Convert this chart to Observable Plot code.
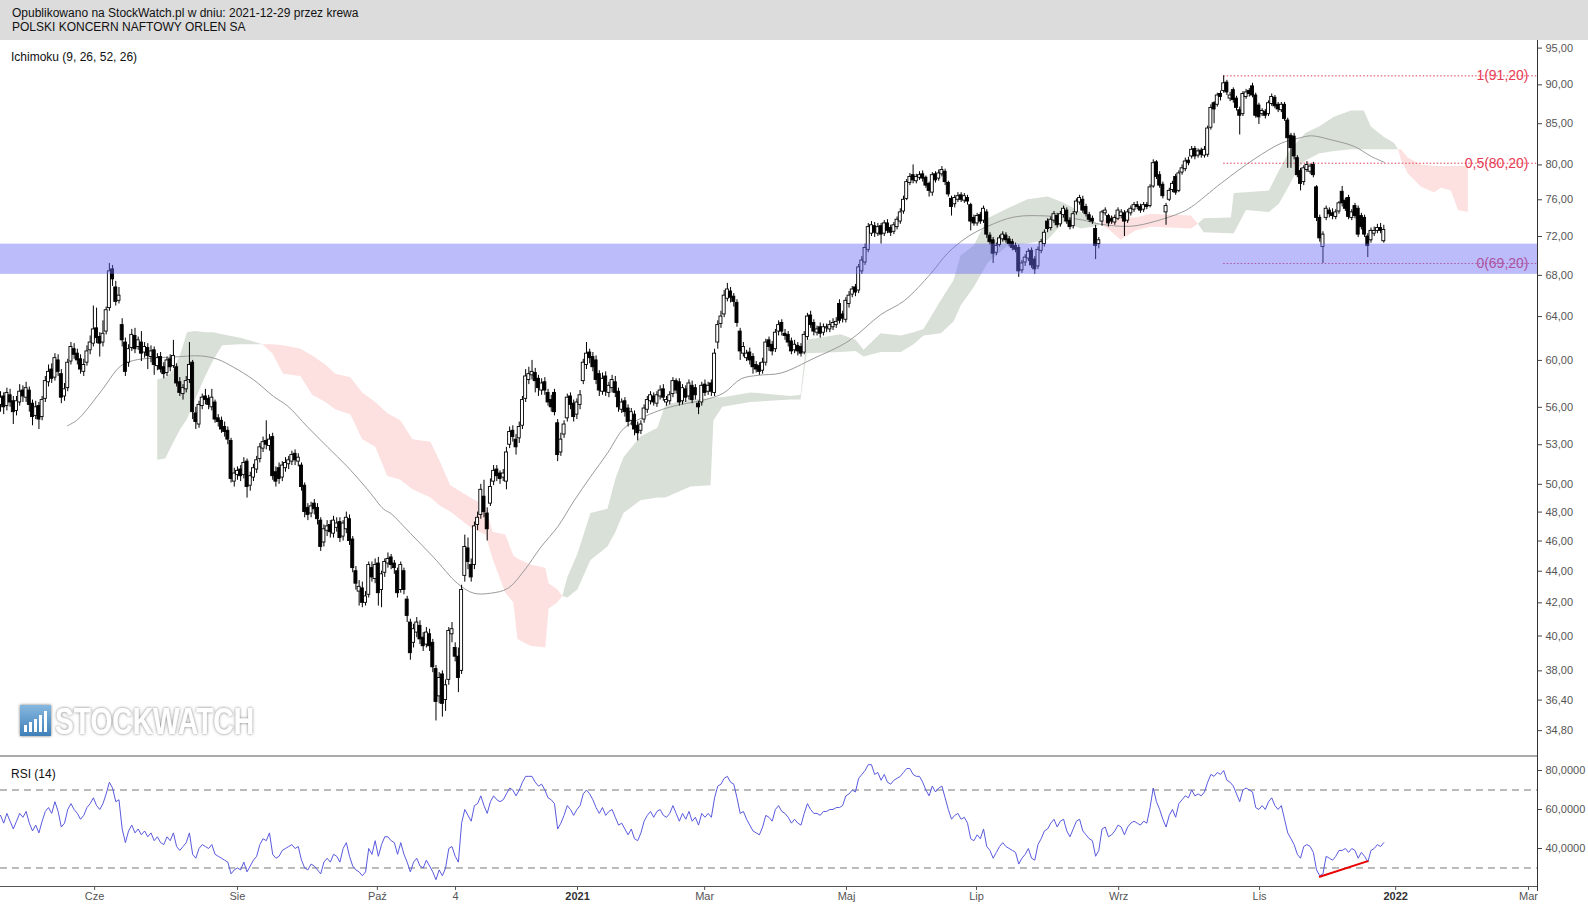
<!DOCTYPE html>
<html lang="pl">
<head>
<meta charset="utf-8">
<script src="https://cdn.jsdelivr.net/npm/d3@7"></script>
<script src="https://cdn.jsdelivr.net/npm/@observablehq/plot@0.6"></script>
<style>
html,body{margin:0;padding:0;background:#fff;}
body{width:1588px;height:905px;position:relative;overflow:hidden;font-family:"Liberation Sans",Arial,sans-serif;color:#111;}
#hdr{position:absolute;left:0;top:0;width:1588px;height:40px;background:#dcdcdc;}
#hdr div{position:absolute;left:12px;font-size:12px;line-height:14px;color:#111;white-space:nowrap;}
.lbl{position:absolute;left:11px;font-size:12px;line-height:14px;color:#111;white-space:nowrap;}
#main{position:absolute;left:0;top:40px;}
#rsi{position:absolute;left:0;top:755px;}
#wm{position:absolute;left:0;top:684px;overflow:visible;}
</style>
</head>
<body>
<div id="hdr"><div style="top:6px">Opublikowano na StockWatch.pl w dniu: 2021-12-29 przez krewa</div><div style="top:20px">POLSKI KONCERN NAFTOWY ORLEN SA</div></div>
<div id="main"></div>
<div id="rsi"></div>
<svg id="wm" width="300" height="64">
  <defs>
    <linearGradient id="wg" x1="0" y1="0" x2="0" y2="1"><stop offset="0" stop-color="#86b8e0"/><stop offset="1" stop-color="#3f7fb8"/></linearGradient>
    <filter id="wsh" x="-10%" y="-30%" width="120%" height="160%"><feDropShadow dx="0" dy="0" stdDeviation="1.6" flood-color="#666" flood-opacity="0.9"/></filter>
  </defs>
  <rect x="20" y="21" width="31" height="31" fill="url(#wg)" filter="url(#wsh)"/>
  <rect x="24" y="41" width="3" height="7" fill="#fff"/><rect x="29" y="38" width="3" height="10" fill="#fff"/><rect x="34" y="35" width="3" height="13" fill="#fff"/><rect x="39" y="31" width="3" height="17" fill="#fff"/><rect x="44" y="27" width="3" height="21" fill="#fff"/>
  <text x="55" y="50" font-family="'Liberation Sans Narrow','Liberation Sans',Arial" font-weight="bold" font-size="36" fill="#fff" filter="url(#wsh)" textLength="199" lengthAdjust="spacingAndGlyphs">STOCKWATCH</text>
</svg>
<div class="lbl" style="top:50px">Ichimoku (9, 26, 52, 26)</div>
<div class="lbl" style="top:767px">RSI (14)</div>
<script>
// ---- daily candles (trading-day index = position in arrays) ----
const open = [
56.2,56.9,56.1,57.0,56.5,55.7,56.4,57.4,56.8,57.4,
56.3,55.3,56.1,55.2,56.7,58.1,59.2,58.5,60.0,58.8,
56.9,57.6,59.9,61.0,60.6,60.1,59.0,59.8,60.9,61.5,
62.9,62.1,61.6,62.6,64.8,68.6,66.8,65.5,63.2,61.6,
59.8,61.1,62.2,61.2,61.6,60.7,61.1,60.3,60.9,59.5,
60.3,59.4,58.9,60.1,59.5,59.4,58.1,57.1,57.5,58.3,
59.8,55.5,54.6,56.1,56.9,56.7,56.0,56.4,55.1,54.9,
54.4,54.1,53.3,50.2,50.7,51.1,50.7,51.7,49.9,50.5,
51.1,51.9,52.7,53.3,52.9,53.6,50.9,51.2,50.5,51.2,
51.5,51.7,52.3,51.7,51.4,49.9,48.3,47.9,48.6,48.3,
47.4,45.9,46.7,47.1,46.5,46.9,47.3,46.3,46.8,47.5,
46.1,44.0,42.7,42.9,42.0,42.5,44.2,43.5,44.5,42.8,
43.9,44.5,44.9,44.5,44.0,42.8,44.0,42.2,40.8,39.6,
40.2,40.6,39.9,39.5,40.1,39.6,38.1,36.6,37.8,36.4,
37.5,40.1,39.3,38.8,38.0,43.7,45.5,44.4,44.4,47.1,
47.8,49.1,47.9,48.6,50.2,51.1,50.8,50.5,50.2,53.0,
54.1,53.4,53.5,54.5,56.7,58.3,58.7,58.9,58.4,57.4,
58.1,57.2,56.6,57.2,54.7,52.4,53.8,55.1,56.9,56.3,
55.4,56.2,58.2,59.6,60.7,60.3,60.0,58.8,57.3,58.6,
57.2,57.6,58.1,57.3,55.8,56.5,55.9,54.9,55.4,54.5,
54.1,55.0,55.8,56.5,56.9,56.3,56.9,57.5,56.4,56.5,
57.1,58.2,58.1,56.5,57.5,56.9,57.8,57.6,56.3,56.4,
57.9,57.3,58.0,57.2,61.6,63.3,64.2,65.7,66.4,65.9,
65.3,62.6,60.6,60.2,60.7,60.3,59.6,59.5,59.1,59.8,
61.8,61.4,61.0,62.6,63.4,62.4,62.3,61.7,60.9,61.3,
61.2,60.7,62.1,64.1,63.4,62.5,63.0,62.5,62.9,62.8,
63.0,63.2,65.2,64.2,63.7,65.2,66.1,66.8,66.5,68.4,
69.3,70.6,72.3,73.1,72.3,73.1,72.3,73.4,72.9,72.5,
73.0,73.6,74.7,76.1,77.9,78.8,78.1,78.5,78.9,78.5,
77.8,76.8,78.9,78.4,78.9,79.2,77.9,76.1,75.5,76.0,
76.5,75.9,76.2,75.4,74.0,73.4,74.3,73.7,74.6,72.1,
71.6,70.3,71.1,71.7,72.1,71.7,71.4,71.0,70.8,68.5,
69.3,69.7,70.5,69.6,68.9,70.5,71.2,73.6,72.9,73.7,
74.2,73.3,74.3,74.8,73.7,73.1,74.6,75.7,76.0,75.2,
74.3,73.9,72.8,71.2,73.6,74.5,74.2,73.9,73.5,73.9,
74.2,74.5,73.7,74.5,74.9,75.4,75.2,74.9,75.4,75.3,
77.5,80.3,78.8,77.7,74.6,76.0,77.1,78.6,77.0,79.1,
79.5,80.5,81.0,81.9,81.1,81.7,81.1,81.2,84.5,87.6,
87.4,88.8,89.2,90.3,88.2,89.3,88.2,86.7,86.2,88.4,
89.2,89.8,88.6,87.3,86.2,86.5,86.2,87.5,88.3,87.4,
86.7,87.4,85.4,83.5,83.4,80.8,79.3,78.0,79.4,79.2,
80.0,77.4,74.0,70.9,74.0,74.8,74.5,74.1,74.7,76.9,
75.9,76.2,74.0,75.3,75.0,74.2,74.0,72.0,71.6,72.3,
72.6,72.9,71.5];
const high = [
57.3,57.2,57.6,57.5,56.9,56.9,57.9,57.8,58.1,57.7,
56.6,56.5,56.4,56.9,58.6,59.6,59.7,60.6,60.5,59.2,
58.0,60.1,61.6,61.5,61.0,60.5,60.1,61.3,62.2,65.0,
64.8,62.5,63.6,64.9,69.2,69.0,67.4,66.8,63.8,62.0,
61.4,62.8,62.9,62.1,62.6,61.6,61.5,61.3,61.2,60.6,
60.7,59.8,60.3,60.5,61.8,59.7,58.5,57.9,58.6,61.6,
60.0,56.0,56.5,57.1,57.5,57.0,57.5,56.6,55.4,55.2,
54.8,54.4,53.5,51.2,51.3,51.4,52.0,51.9,50.9,51.5,
52.1,53.1,53.6,54.9,53.8,53.9,51.3,51.6,51.7,52.0,
52.1,52.5,52.6,52.3,51.6,50.1,48.6,48.7,48.9,48.6,
47.6,47.1,47.4,47.4,47.7,47.6,47.6,47.4,48.0,47.8,
46.3,44.3,43.4,43.3,42.7,44.6,44.6,44.8,44.9,44.0,
44.8,45.2,45.1,44.7,44.2,44.6,44.2,42.4,41.0,40.7,
41.1,40.9,40.2,40.5,40.4,39.8,38.3,37.9,38.0,37.5,
40.5,40.8,39.6,39.3,43.1,46.4,46.2,44.8,47.3,48.0,
50.0,50.3,48.3,50.4,51.4,51.4,51.0,51.1,52.8,54.4,
54.5,53.8,54.8,56.9,59.2,59.4,60.0,59.3,58.7,58.4,
58.5,57.5,57.0,57.5,55.0,53.9,54.9,57.1,57.2,56.6,
56.7,57.4,60.1,61.6,61.0,60.7,60.4,59.1,58.9,59.0,
58.1,58.7,58.6,57.6,56.7,56.8,56.2,55.9,55.7,54.8,
54.9,56.2,56.9,57.3,57.2,57.3,57.8,57.9,56.9,57.3,
58.5,58.4,58.4,57.9,57.8,58.3,58.2,57.9,56.5,58.1,
58.3,58.1,58.3,61.0,63.6,64.5,66.5,67.2,66.8,66.2,
65.6,62.9,61.6,60.9,61.1,60.6,59.9,59.8,60.2,61.9,
62.1,61.7,62.8,63.6,63.7,62.8,62.6,62.0,61.8,61.6,
61.5,62.6,64.3,64.5,63.7,63.1,63.4,63.3,63.3,63.6,
63.8,63.9,65.6,64.5,65.8,66.4,66.9,67.1,69.1,69.9,
71.2,73.4,73.6,73.5,73.4,73.4,73.7,73.8,73.2,73.5,
74.1,75.0,76.4,78.3,79.0,80.0,78.9,79.2,79.3,78.7,
78.0,79.1,79.2,79.4,79.8,79.5,78.1,76.4,76.5,76.8,
76.8,76.7,76.5,75.6,74.3,74.5,74.6,75.3,74.9,72.4,
71.9,71.3,72.1,72.5,72.4,72.0,71.7,71.3,71.1,69.5,
70.1,70.7,70.8,69.9,70.9,71.7,72.7,73.9,74.1,74.7,
74.5,74.7,75.3,75.1,74.0,74.7,76.1,76.5,76.4,75.5,
74.6,74.2,73.2,71.9,74.8,75.1,74.4,74.2,74.3,75.1,
74.9,74.8,74.9,75.3,75.7,75.8,75.5,75.7,75.7,77.7,
80.6,80.5,79.2,78.0,75.6,77.3,78.1,78.9,79.3,80.0,
80.8,80.9,82.2,82.2,81.9,82.0,82.2,84.7,87.4,87.8,
88.9,89.2,91.2,90.6,89.0,89.6,88.5,87.1,89.1,89.4,
89.5,90.2,88.9,87.6,86.9,86.8,87.9,88.8,88.6,87.7,
87.7,87.7,85.7,83.8,83.8,81.1,79.6,79.9,80.4,80.1,
80.3,77.6,74.3,72.5,75.3,75.1,75.0,74.9,75.8,77.5,
76.2,76.5,74.9,75.6,75.3,74.5,74.3,72.3,72.9,73.0,
73.3,73.4,73.2];
const low = [
55.6,55.4,55.7,56.0,54.6,55.3,56.1,56.4,56.4,55.6,
54.5,55.0,54.2,54.9,56.4,57.7,58.0,58.2,58.6,56.3,
56.5,57.3,59.6,60.1,59.6,58.8,58.6,59.5,60.5,61.2,
61.5,60.3,61.2,62.3,64.5,66.9,65.0,65.2,61.2,58.6,
59.4,60.8,60.6,60.9,59.9,60.2,59.2,59.8,58.7,59.1,
58.9,58.4,58.6,59.0,59.3,57.7,56.9,56.6,57.2,58.0,
55.0,54.2,54.3,55.8,56.2,55.8,55.7,54.7,54.4,53.9,
53.6,53.0,50.1,49.8,50.3,50.2,50.4,49.0,49.5,50.2,
50.8,51.6,52.4,52.6,52.5,50.3,49.8,50.0,50.2,50.9,
51.1,51.4,51.4,51.3,49.5,47.6,47.4,47.6,47.8,47.1,
45.3,45.6,46.3,46.2,46.2,46.6,45.9,46.0,46.5,45.7,
43.9,42.8,41.8,41.7,41.8,42.3,43.3,43.2,41.8,41.7,
43.6,44.2,44.1,43.8,42.3,42.6,42.5,40.8,38.6,39.3,
39.9,39.5,39.1,39.3,39.1,37.9,35.3,36.2,35.5,35.8,
37.2,39.6,38.5,36.8,37.8,43.3,44.1,43.3,44.1,46.7,
47.5,47.6,46.0,48.4,49.9,50.2,50.0,50.2,49.6,52.7,
53.2,52.2,53.1,54.2,56.4,57.9,58.3,57.2,56.9,57.0,
57.0,56.1,55.6,55.3,51.7,52.1,53.5,54.8,55.8,54.8,
55.0,55.8,57.9,59.2,59.7,59.0,57.9,56.9,57.0,56.9,
56.8,57.2,56.8,55.6,55.5,55.2,54.4,54.5,53.7,53.3,
53.8,54.7,55.5,56.2,56.1,56.0,56.6,56.5,56.1,56.2,
56.8,57.1,56.1,56.2,56.4,56.6,56.3,56.6,55.4,56.1,
56.9,57.0,56.9,56.9,61.0,62.9,63.9,65.4,65.3,64.9,
63.0,60.0,60.3,59.9,59.6,58.8,58.9,58.7,58.8,59.5,
60.8,60.4,60.7,62.2,62.2,61.8,61.2,60.5,60.6,60.4,
60.3,60.5,61.8,62.9,62.2,62.2,62.0,62.2,62.5,62.5,
62.7,62.9,63.3,63.4,63.4,64.8,65.8,65.9,66.2,68.1,
69.0,70.3,72.0,71.9,72.0,71.2,72.0,72.3,72.0,72.2,
72.7,73.3,74.4,75.9,77.6,77.8,77.8,78.2,78.0,77.3,
76.3,76.4,77.9,78.1,78.6,77.6,76.3,74.2,75.1,75.7,
75.7,75.6,75.4,72.6,73.1,73.1,73.3,73.4,71.8,71.1,
69.2,70.0,70.9,71.4,71.3,70.9,70.5,70.3,67.8,68.2,
68.9,69.4,68.7,68.1,68.6,70.2,70.9,72.4,72.6,73.4,
72.9,73.0,74.0,73.3,72.7,72.8,74.3,75.4,74.5,74.1,
73.5,73.3,69.6,70.7,73.1,74.2,73.0,73.3,73.2,73.7,
73.9,72.0,73.4,74.2,74.6,74.9,74.5,74.6,74.9,75.1,
77.3,78.3,77.3,76.1,73.2,75.8,76.8,76.5,76.8,78.8,
79.2,79.9,80.7,80.6,80.8,80.8,80.8,80.9,84.2,85.0,
87.1,87.9,88.9,88.6,87.8,87.6,86.6,83.6,85.9,88.1,
88.4,88.3,85.7,84.9,85.9,85.6,85.9,87.2,86.9,86.4,
86.4,85.3,79.6,79.6,80.6,78.5,77.0,77.6,79.1,78.9,
78.5,73.6,71.4,69.2,73.7,74.0,73.8,73.8,74.4,75.2,
74.7,73.8,73.7,73.9,71.9,72.7,71.9,69.8,71.3,72.0,
72.3,72.3,71.3];
const close = [
56.8,56.0,57.2,56.4,55.6,56.5,57.3,56.9,57.6,56.2,
55.2,56.0,55.0,56.6,58.2,59.0,58.4,60.2,59.0,56.8,
57.5,59.8,61.2,60.5,60.0,59.2,59.6,60.8,61.6,62.8,
62.0,61.5,62.4,64.6,68.4,67.6,65.4,66.0,61.8,59.0,
61.0,62.3,61.0,61.8,60.6,61.2,60.4,60.8,59.6,60.2,
59.2,58.8,60.0,59.4,60.4,58.0,57.2,57.6,58.2,59.6,
55.6,54.8,56.2,56.8,56.6,56.2,56.8,55.0,54.8,54.2,
54.0,53.4,50.4,50.8,51.0,50.6,51.6,49.8,50.6,51.2,
51.8,52.8,53.2,53.0,53.4,50.6,50.2,50.4,51.4,51.6,
51.8,52.2,51.8,52.0,49.8,48.0,47.8,48.4,48.2,47.5,
45.6,46.8,47.0,46.6,47.4,47.2,46.2,47.2,47.6,46.0,
44.2,43.2,43.0,42.0,42.4,44.4,43.6,44.4,42.6,43.8,
44.6,44.8,44.4,44.2,42.6,44.4,42.8,41.2,39.0,40.4,
40.8,39.8,39.4,40.2,39.4,38.2,36.3,37.6,36.2,37.2,
40.3,40.4,38.8,37.6,42.8,45.6,44.6,43.6,47.0,47.6,
49.6,48.0,46.8,49.8,51.0,50.6,50.4,50.8,52.4,54.0,
53.6,52.8,54.4,56.6,58.6,58.8,59.0,58.2,57.6,58.0,
57.4,56.4,56.0,55.6,52.2,53.4,54.6,56.8,56.2,55.2,
56.4,57.0,59.8,60.6,60.2,59.4,58.3,57.4,58.4,57.3,
57.8,58.3,57.2,56.0,56.4,55.6,54.8,55.6,54.2,53.9,
54.6,55.9,56.6,57.0,56.4,57.0,57.4,56.8,56.6,57.0,
58.2,57.4,56.4,57.6,56.8,58.0,56.6,57.0,56.0,57.8,
57.2,57.8,57.3,60.6,63.2,64.0,66.0,66.6,65.8,65.4,
63.4,60.8,61.2,60.6,60.0,59.4,59.2,59.0,59.8,61.6,
61.2,60.8,62.5,63.2,62.6,62.2,61.6,60.8,61.4,60.8,
60.6,62.3,64.0,63.2,62.6,62.8,62.4,63.0,63.0,63.2,
63.4,63.5,63.6,63.8,65.5,66.0,66.6,66.3,68.8,69.5,
70.8,73.0,73.2,72.4,73.0,72.2,73.4,72.6,72.4,73.2,
73.8,74.6,76.0,78.0,78.6,78.2,78.6,78.8,78.4,77.6,
77.0,78.8,78.2,79.0,79.4,78.0,76.6,75.2,76.2,76.4,
76.0,76.4,75.8,73.6,73.4,74.2,73.6,75.0,72.2,71.4,
70.2,71.0,71.8,72.2,71.6,71.2,70.8,70.6,68.4,69.2,
69.8,70.4,69.0,68.6,70.6,71.4,72.4,72.8,73.8,74.4,
73.2,74.4,75.0,73.6,73.0,74.4,75.8,76.2,74.8,74.4,
73.8,73.6,71.0,71.6,74.6,74.8,73.4,73.6,74.0,74.8,
74.6,73.6,74.6,75.0,75.4,75.2,74.8,75.4,75.2,77.4,
80.2,78.6,77.6,76.4,75.3,77.0,77.8,76.8,79.0,79.6,
80.4,80.2,81.8,81.0,81.6,81.2,81.8,84.4,87.0,86.8,
88.6,88.4,90.2,89.0,88.6,88.0,87.0,86.0,88.8,89.0,
88.8,88.6,86.0,85.8,86.6,86.0,87.6,88.4,87.2,86.8,
87.4,85.6,83.2,82.0,81.0,78.8,77.8,79.6,80.0,79.8,
78.8,74.0,71.8,72.2,75.0,74.4,74.2,74.6,75.6,75.6,
75.0,74.1,74.6,74.2,72.2,73.0,72.2,71.0,72.6,72.6,
72.9,72.6,72.7];

// ---- RSI(14), one value per trading day ----
const rsi = [
57,53,58,54,50,54,58,56,59,53,49,
52,48,54,59,61,58,64,59,51,53,
60,63,60,58,55,57,61,63,66,62,
60,63,68,74,71,64,65,50,43,
49,52,48,50,47,49,46,48,44,46,
43,42,46,44,48,41,39,41,43,48,
37,35,40,42,41,40,42,37,36,35,
34,33,27,29,30,29,33,28,31,34,
36,42,45,44,48,37,35,36,39,40,
41,42,40,41,34,30,29,32,31,29,
27,33,35,33,37,36,33,40,43,36,
31,29,28,26,28,40,37,44,36,42,
46,46,44,43,37,43,37,33,28,33,
35,31,30,34,31,28,24,29,26,30,
40,41,36,33,53,60,57,54,62,63,
67,62,58,64,67,65,64,65,68,71,
70,67,70,74,77,77,77,74,72,73,
70,66,65,63,50,53,57,62,60,57,
60,62,68,70,68,65,61,58,61,57,
59,60,56,52,53,50,47,50,45,44,
48,54,57,59,56,59,60,57,56,58,
62,58,54,58,55,59,54,56,52,58,
56,58,56,66,72,73,76,77,74,73,
66,58,59,55,52,49,48,47,51,57,
56,54,60,62,59,58,56,53,55,53,
52,58,63,60,58,58,57,59,59,60,
60,61,61,62,67,68,70,69,76,78,
80,83,83,78,79,75,78,74,73,75,
76,77,79,81,81,78,77,77,74,70,
67,72,69,71,72,66,60,55,57,58,
55,56,53,45,44,47,45,50,41,39,
35,38,41,43,41,40,39,38,32,35,
37,40,35,34,42,45,49,50,53,55,
51,54,55,49,46,50,54,55,49,47,
45,44,36,39,50,51,46,47,49,52,
51,47,51,53,54,53,52,54,53,61,
71,64,60,55,51,57,60,56,63,65,
67,66,70,67,68,67,69,74,78,77,
79,78,80,75,74,72,68,64,70,71,
70,69,61,60,62,60,64,66,62,60,
62,55,48,45,42,37,35,41,42,41,
38,29,26,27,36,35,34,36,39,39,
40,38,40,39,35,38,36,33,39,40,
42,41,43];

// ---- Ichimoku cloud (senkou spans, shifted forward) ----
const cloudIdx = [49.1,51.6,53.8,56.3,58.4,60.9,64.1,66.6,69.4,75.0,79.7,81.9,
85.0,88.4,93.8,97.5,101.6,104.7,109.4,113.1,117.2,120.9,125.0,128.8,134.4,137.5,140.6,146.9,151.6,153.8,157.8,160.3,161.6,165.6,170.3,171.3,174.1,175.6,
177.2,180.3,184.4,189.7,192.2,194.7,200.0,205.3,207.8,215.6,221.9,222.8,225.6,234.4,246.9,250.0,251.9,262.5,267.2,269.7,275.0,281.3,285.3,288.4,293.8,297.8,300.0,304.1,308.4,314.7,320.9,327.2,332.2,337.5,341.3,343.8,
346.3,350.0,354.7,359.4,365.6,371.9,374.1,
375.9,384.4,385.3,389.1,396.3,399.4,402.5,405.3,407.8,411.9,416.6,421.9,425.9,428.1,432.2,435.3,436.6,
437.5,439.7,443.8,447.8,450.0,453.1,455.3,458.4];
const senkouA = [58.3,58.5,59.0,60.5,62.5,62.6,62.5,62.5,62.3,62.0,61.6,61.4,
60.6,58.8,58.6,57.0,56.4,55.8,55.4,53.4,52.8,50.6,50.3,49.6,49.0,48.4,48.0,46.9,46.4,44.8,42.6,42.0,39.8,39.4,39.3,41.6,42.0,42.4,
43.6,45.1,47.9,48.2,50.4,52.0,53.6,54.3,56.2,56.6,56.7,56.8,56.8,57.2,56.9,57.0,61.8,62.3,61.8,60.9,62.4,62.2,62.5,62.8,65.5,67.5,70.0,71.0,73.9,75.0,76.0,76.3,75.6,74.6,73.6,73.2,
72.7,71.6,72.6,73.0,72.9,72.8,73.3,
73.9,74.0,76.7,76.8,77.0,79.3,81.5,82.8,83.8,84.6,85.8,86.6,86.6,84.6,83.3,82.6,81.8,
80.6,78.9,77.4,76.8,77.3,77.0,74.8,74.6];
const senkouB = [51.8,51.9,53.0,54.2,55.0,56.6,58.6,60.0,61.3,61.4,61.4,61.4,
61.4,61.3,61.0,60.4,59.6,58.8,58.5,57.2,56.4,55.5,54.9,53.4,53.2,51.6,49.9,49.0,48.4,46.6,46.4,45.0,44.8,44.4,44.2,43.2,42.8,42.4,
42.3,42.8,44.7,45.6,46.6,47.9,48.8,49.0,49.0,49.8,49.9,54.9,56.0,56.4,56.6,56.6,60.6,60.7,60.8,60.3,60.7,60.7,61.4,62.2,62.4,63.5,65.0,66.8,69.2,71.0,71.2,71.6,73.5,72.8,73.0,73.2,
74.2,74.0,74.0,74.4,74.3,74.2,73.3,
72.4,72.3,72.3,74.8,74.6,75.5,77.5,79.5,80.5,81.3,81.6,81.8,81.8,81.8,81.8,81.8,81.8,
81.8,80.8,80.0,79.8,79.8,79.8,79.8,79.8];

// ---- grey smoothed line ----
const maIdx = [20.9,24.1,31.3,37.5,41.6,46.9,54.1,62.5,67.8,72.8,79.1,85.3,89.7,95.9,102.2,108.4,114.7,119.7,121.9,128.1,135.3,142.8,147.8,153.1,158.4,163.4,168.8,174.1,179.1,184.4,189.7,194.7,200.0,205.3,210.3,220.9,225.9,231.3,236.6,243.8,254.1,264.7,275.0,282.2,290.6,295.9,302.2,308.4,316.6,327.2,337.5,343.8,353.1,360.3,368.8,371.9,381.3,391.6,400.0,405.3,409.4,415.6,422.8,428.1,432.2];
const maVal = [54.5,55.0,57.3,59.5,60.0,60.2,60.3,60.4,60.1,59.4,58.3,56.9,56.1,54.4,52.8,51.3,49.6,48.2,47.9,46.5,44.9,43.2,42.6,42.6,42.9,44.0,45.6,47.0,48.8,50.6,52.4,54.3,55.1,55.7,56.1,56.7,57.2,58.4,58.7,58.9,60.2,61.7,64.2,65.5,68.2,70.3,72.0,73.1,74.1,74.2,73.8,73.3,73.1,73.6,74.6,75.2,77.9,80.7,82.6,83.2,83.5,83.0,82.2,81.0,80.3];

// ---- Fibonacci levels, support band, trend line ----
const fibValues = [91.2, 80.2, 69.2];
const fibLabels = ["1(91,20)", "0,5(80,20)", "0(69,20)"];
const fibStartIdx = 382;
const bandLow = 68.1, bandHigh = 71.2;
const trendIdx = [412, 427];
const trendVal = [25.5, 33.5];

// ---- axes ----
const yTicks = [95,90,85,80,76,72,68,64,60,56,53,50,48,46,44,42,40,38,36.4,34.8];
const rsiTicks = [40,60,80];
const rsiLevels = [30,70];
const xTickIdx = [29.4,74.0,117.7,142.1,180.2,219.9,264.2,304.8,349.2,393.2,435.7,477.2];
const xTickLabels = ["Cze","Sie","Paź","4","2021","Mar","Maj","Lip","Wrz","Lis","2022","Mar"];
const xTickBold = [false,false,false,false,true,false,false,false,false,false,true,false];

// ---- layout constants ----
const W = 1588, MR = 51, xMax = 480, fibLabelIdx = 477.2;
const FONT = "'Liberation Sans', Arial, sans-serif";

const candles = close.map((c, i) => ({i, open: open[i], high: high[i], low: low[i], close: c}));

// split cloud into runs of one colour
const cloudRows = [];
let seg = 0, prev = null;
for (let k = 0; k < cloudIdx.length - 1; k++) {
  const up = (senkouA[k] + senkouA[k + 1]) >= (senkouB[k] + senkouB[k + 1]);
  if (up !== prev) { seg++; prev = up; cloudRows.push({i: cloudIdx[k], a: senkouA[k], b: senkouB[k], seg, up}); }
  cloudRows.push({i: cloudIdx[k + 1], a: senkouA[k + 1], b: senkouB[k + 1], seg, up});
}

const comma = (d, n) => d.toFixed(n).replace(".", ",");

const main = Plot.plot({
  width: W, height: 715,
  marginLeft: 0, marginRight: MR, marginTop: 0, marginBottom: 0,
  style: {fontFamily: FONT, fontSize: "11px", background: "transparent", overflow: "visible"},
  x: {domain: [0, xMax], axis: null},
  y: {type: "log", domain: [33.55, 96.07], axis: null},
  marks: [
    Plot.areaY(cloudRows.filter(d => d.up), {x: "i", y1: "a", y2: "b", z: "seg", fill: "#d9e0d7"}),
    Plot.areaY(cloudRows.filter(d => !d.up), {x: "i", y1: "a", y2: "b", z: "seg", fill: "#fde0e0"}),
    Plot.line(maIdx, {x: d => d, y: (d, k) => maVal[k], stroke: "#9a9a9a", strokeWidth: 1, curve: "catmull-rom"}),
    Plot.ruleY(fibValues, {y: d => d, x1: () => fibStartIdx, x2: () => xMax, stroke: "#e0405a", strokeWidth: 1, strokeDasharray: "1.5,2"}),
    Plot.text(fibValues, {x: () => fibLabelIdx, y: d => d, text: (d, k) => fibLabels[k], textAnchor: "end", fill: "#e63c55", fontSize: 14}),
    Plot.ruleX(candles, {x: "i", y1: "low", y2: "high", stroke: "#000", strokeWidth: 1}),
    Plot.rect(candles, {x1: d => d.i - 0.47, x2: d => d.i + 0.47, y1: "open", y2: "close",
      fill: d => d.close >= d.open ? "#ffffff" : "#000000", stroke: "#000", strokeWidth: 0.9}),
    Plot.rect([{lo: bandLow, hi: bandHigh}], {x1: () => 0, x2: () => xMax, y1: "lo", y2: "hi", fill: "#6a6af6", fillOpacity: 0.45}),
    Plot.ruleX([xMax], {stroke: "#333", strokeWidth: 1}),
    Plot.axisY(yTicks, {anchor: "right", tickSize: 4, tickPadding: 4, tickFormat: d => comma(d, 2), fill: "#555", stroke: "#444", label: null, fontSize: 11})
  ]
});
document.getElementById("main").appendChild(main);

const rsiPlot = Plot.plot({
  width: W, height: 150,
  marginLeft: 0, marginRight: MR, marginTop: 0, marginBottom: 19,
  style: {fontFamily: FONT, fontSize: "11px", background: "transparent", overflow: "visible"},
  x: {domain: [0, xMax], axis: null},
  y: {domain: [20.5, 87.7], axis: null},
  marks: [
    Plot.ruleY(rsiLevels, {stroke: "#777", strokeWidth: 1, strokeDasharray: "7,5"}),
    Plot.lineY(rsi, {x: (d, k) => k, y: d => d, stroke: "#5a5ade", strokeWidth: 1}),
    Plot.line(trendIdx, {x: d => d, y: (d, k) => trendVal[k], stroke: "#e80000", strokeWidth: 2}),
    Plot.ruleY([87.7], {stroke: "#555", strokeWidth: 1, dy: 0.5}),
    Plot.ruleY([20.5], {stroke: "#555", strokeWidth: 1}),
    Plot.ruleX([xMax], {stroke: "#333", strokeWidth: 1, insetBottom: -5}),
    Plot.axisY(rsiTicks, {anchor: "right", tickSize: 4, tickPadding: 4, tickFormat: d => comma(d, 4), fill: "#555", stroke: "#444", label: null, fontSize: 11}),
    Plot.axisX(xTickIdx.filter((d, k) => !xTickBold[k]), {anchor: "bottom", tickSize: 4, tickPadding: 2,
      tickFormat: d => xTickLabels[xTickIdx.indexOf(d)], fill: "#555", stroke: "#555", label: null, fontSize: 11}),
    Plot.axisX(xTickIdx.filter((d, k) => xTickBold[k]), {anchor: "bottom", tickSize: 4, tickPadding: 2,
      tickFormat: d => xTickLabels[xTickIdx.indexOf(d)], fill: "#333", stroke: "#555", label: null, fontSize: 11, fontWeight: "bold"})
  ]
});
document.getElementById("rsi").appendChild(rsiPlot);
</script>
</body>
</html>
